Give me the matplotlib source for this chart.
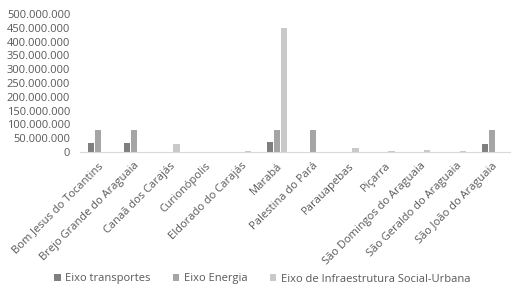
import matplotlib.pyplot as plt
import matplotlib.ticker as mticker
import numpy as np

plt.rcParams['font.family'] = ['Open Sans', 'DejaVu Sans']

cities = ['Bom Jesus do Tocantins', 'Brejo Grande do Araguaia', 'Canaã dos Carajás',
          'Curionópolis', 'Eldorado do Carajás', 'Marabá', 'Palestina do Pará',
          'Parauapebas', 'Piçarra', 'São Domingos do Araguaia',
          'São Geraldo do Araguaia', 'São João do Araguaia']
transportes = [33e6, 33e6, 0, 0, 0, 38e6, 0, 0, 0, 0, 0, 30e6]
energia = [78e6, 78e6, 0, 0, 0, 78e6, 78e6, 0, 0, 0, 0, 78e6]
social = [0, 0, 28e6, 0, 4e6, 450e6, 0, 15e6, 3e6, 7e6, 3e6, 0]

series = [('Eixo transportes', transportes, '#7f7f7f'),
          ('Eixo Energia', energia, '#a5a5a5'),
          ('Eixo de Infraestrutura Social-Urbana', social, '#c9c9c9')]

fig = plt.figure(figsize=(5.24, 3.01), dpi=100)
ax = fig.add_axes([80 / 524, 149 / 301, 430 / 524, 138 / 301])

x = np.arange(len(cities))
w = 0.19
for i, (name, vals, col) in enumerate(series):
    ax.bar(x + (i - 1) * w, vals, w * 0.92, color=col, label=name)

ax.set_xlim(-0.5, len(cities) - 0.5)
ax.set_ylim(0, 500e6)
ax.yaxis.set_major_locator(mticker.MultipleLocator(50e6))
ax.yaxis.set_major_formatter(mticker.FuncFormatter(
    lambda v, p: '0' if v == 0 else f'{v:,.0f}'.replace(',', '.')))
ax.set_xticks(x)
ax.set_xticklabels(cities, rotation=45, ha='right', rotation_mode='anchor')

tc = '#595959'
ax.tick_params(axis='both', length=0, labelsize=8, colors=tc)
ax.tick_params(axis='y', pad=7)
ax.tick_params(axis='x', pad=6)
for s in ['top', 'right', 'left']:
    ax.spines[s].set_visible(False)
ax.spines['bottom'].set_color('#d9d9d9')

fig.legend(loc='center', bbox_to_anchor=(262 / 524, 1 - 279 / 301), ncol=3,
           frameon=False, fontsize=8, labelcolor=tc, handlelength=0.6,
           handleheight=0.6, columnspacing=2.0, handletextpad=0.4)

fig.savefig('out.png', dpi=100)
